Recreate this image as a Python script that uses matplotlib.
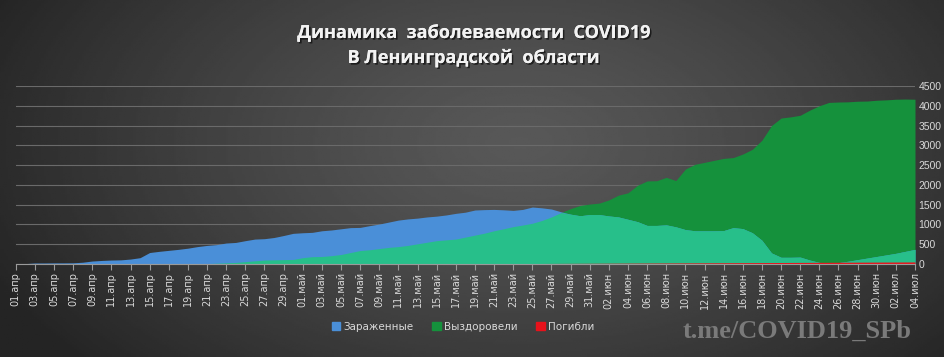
import numpy as np
import pandas as pd
import matplotlib
matplotlib.use("Agg")
import matplotlib.pyplot as plt
import matplotlib.patheffects as pe
from matplotlib.patches import Patch

# --- данные ---
months = ["апр", "май", "июн", "июл"]
dates = pd.date_range("2020-04-01", "2020-07-04", freq="D")

infected = [0, 10, 25, 25, 28, 28, 30, 45, 75, 90,
            100, 105, 125, 160, 290, 320, 345, 370, 400, 440,
            470, 490, 530, 545, 590, 630, 640, 670, 720, 775,
            790, 800, 840, 860, 890, 920, 925, 970, 1010, 1060,
            1110, 1140, 1160, 1190, 1210, 1240, 1280, 1310, 1365, 1375,
            1380, 1370, 1355, 1380, 1440, 1420, 1390, 1320, 1260, 1220,
            1250, 1250, 1215, 1190, 1130, 1070, 975, 975, 990, 940,
            870, 840, 840, 840, 845, 920, 895, 790, 600, 280,
            170, 170, 175, 100, 40, 20, 35, 70, 110, 150,
            190, 230, 270, 320, 370]

recovered = [0, 0, 0, 0, 0, 0, 0, 0, 0, 0,
             0, 0, 0, 0, 0, 0, 0, 0, 0, 5,
             10, 20, 30, 40, 60, 80, 100, 105, 110, 115,
             160, 185, 190, 210, 240, 290, 340, 360, 390, 420,
             440, 470, 510, 550, 590, 610, 630, 680, 730, 780,
             840, 890, 945, 985, 1030, 1100, 1190, 1300, 1400, 1480,
             1515, 1540, 1620, 1740, 1800, 1990, 2100, 2105, 2190, 2110,
             2400, 2520, 2570, 2620, 2670, 2690, 2780, 2900, 3130, 3500,
             3690, 3720, 3760, 3890, 4000, 4085, 4095, 4100, 4115, 4120,
             4140, 4150, 4165, 4170, 4165]

died = [0] * 50 + [8, 9, 10, 11, 12, 13, 14, 15, 16, 17,
                   18, 19, 20, 21, 22, 23, 24, 25, 26, 27,
                   28, 29, 30, 31, 32, 33, 34, 35, 36, 37,
                   38, 39, 40, 41, 42, 43, 44, 45, 46, 47,
                   48, 49, 50, 51, 52]

yticks = list(range(0, 4501, 500))
legend_labels = ["Зараженные", "Выздоровели", "Погибли"]

C_BLUE = "#4a8fd8"
C_GREEN = "#15913c"
C_TEAL = "#27bf8a"
C_RED = "#e8121b"

x = np.arange(len(dates))
inf = np.array(infected, dtype=float)
rec = np.array(recovered, dtype=float)
dth = np.array(died, dtype=float)
labels = [f"{d.day:02d}.{months[d.month - 4]}" for d in dates]

fig = plt.figure(figsize=(9.45, 3.57), dpi=100)

# --- фон: радиальный градиент ---
bg = fig.add_axes([0, 0, 1, 1], zorder=-10)
gx, gy = np.meshgrid(np.linspace(0, 1, 400), np.linspace(0, 1, 200))
r = np.sqrt(((gx - 0.55) / 0.62) ** 2 + ((gy - 0.6) / 0.95) ** 2)
shade = np.clip(0x58 - (0x58 - 0x24) * r ** 1.3, 0x24, 0x58) / 255.0
bg.imshow(shade, cmap="gray", vmin=0, vmax=1, aspect="auto",
          extent=[0, 1, 0, 1], origin="lower")
bg.axis("off")

ax = fig.add_axes([15.7 / 945, 1 - 264 / 357, (915 - 15.7) / 945, (264 - 86) / 357])
ax.patch.set_alpha(0)

ax.fill_between(x, 0, rec, color=C_GREEN, lw=0, zorder=2)
ax.fill_between(x, 0, inf, color=C_BLUE, lw=0, zorder=2)
ax.fill_between(x, 0, np.minimum(inf, rec), color=C_TEAL, lw=0, zorder=3)
ax.fill_between(x, 0, dth, color=C_RED, lw=0, zorder=4)

ax.set_xlim(0, len(x) - 1)
ax.set_ylim(0, 4500)
ax.set_yticks(yticks)
ax.yaxis.tick_right()
ax.tick_params(axis="y", length=0, pad=2.5, labelsize=7.5, labelcolor="#d9d9d9")
for lab in ax.get_yticklabels():
    lab.set_family("Liberation Sans")
    lab.set_ha("left")
ax.grid(axis="y", color="#6a6a6a", lw=0.8, zorder=1)
ax.set_xticks(x[::2])
ax.set_xticklabels(labels[::2], rotation=90, fontsize=7, color="#d9d9d9")
ax.tick_params(axis="x", length=4, color="#9a9a9a", pad=2)
for s in ["top", "left", "right"]:
    ax.spines[s].set_visible(False)
ax.spines["bottom"].set_color("#9a9a9a")
ax.spines["bottom"].set_zorder(6)

shadow = [pe.withSimplePatchShadow(offset=(1.2, -1.2), shadow_rgbFace="black", alpha=0.6), pe.Normal()]
fig.text(0.5, 1 - 33 / 357, "Динамика  заболеваемости  COVID19", ha="center", va="center",
         fontsize=13, fontweight="bold", color="#f2f2f2", family="Open Sans", path_effects=shadow)
fig.text(0.5, 1 - 58 / 357, "В Ленинградской  области", ha="center", va="center",
         fontsize=13, fontweight="bold", color="#f2f2f2", family="Open Sans", path_effects=shadow)

handles = [Patch(color=C_BLUE), Patch(color=C_GREEN), Patch(color=C_RED)]
fig.legend(handles, legend_labels, loc="center", bbox_to_anchor=(0.49, 1 - 327 / 357),
           ncol=3, frameon=False, fontsize=7.5, labelcolor="#d9d9d9",
           handlelength=0.8, handleheight=0.8, handletextpad=0.3, columnspacing=1.8)

fig.text(797 / 945, 1 - 331 / 357, "t.me/COVID19_SPb", ha="center", va="center",
         fontsize=19, fontweight="bold", color="#7a7a7a", family="Liberation Serif")

fig.savefig("out.png", dpi=100)
